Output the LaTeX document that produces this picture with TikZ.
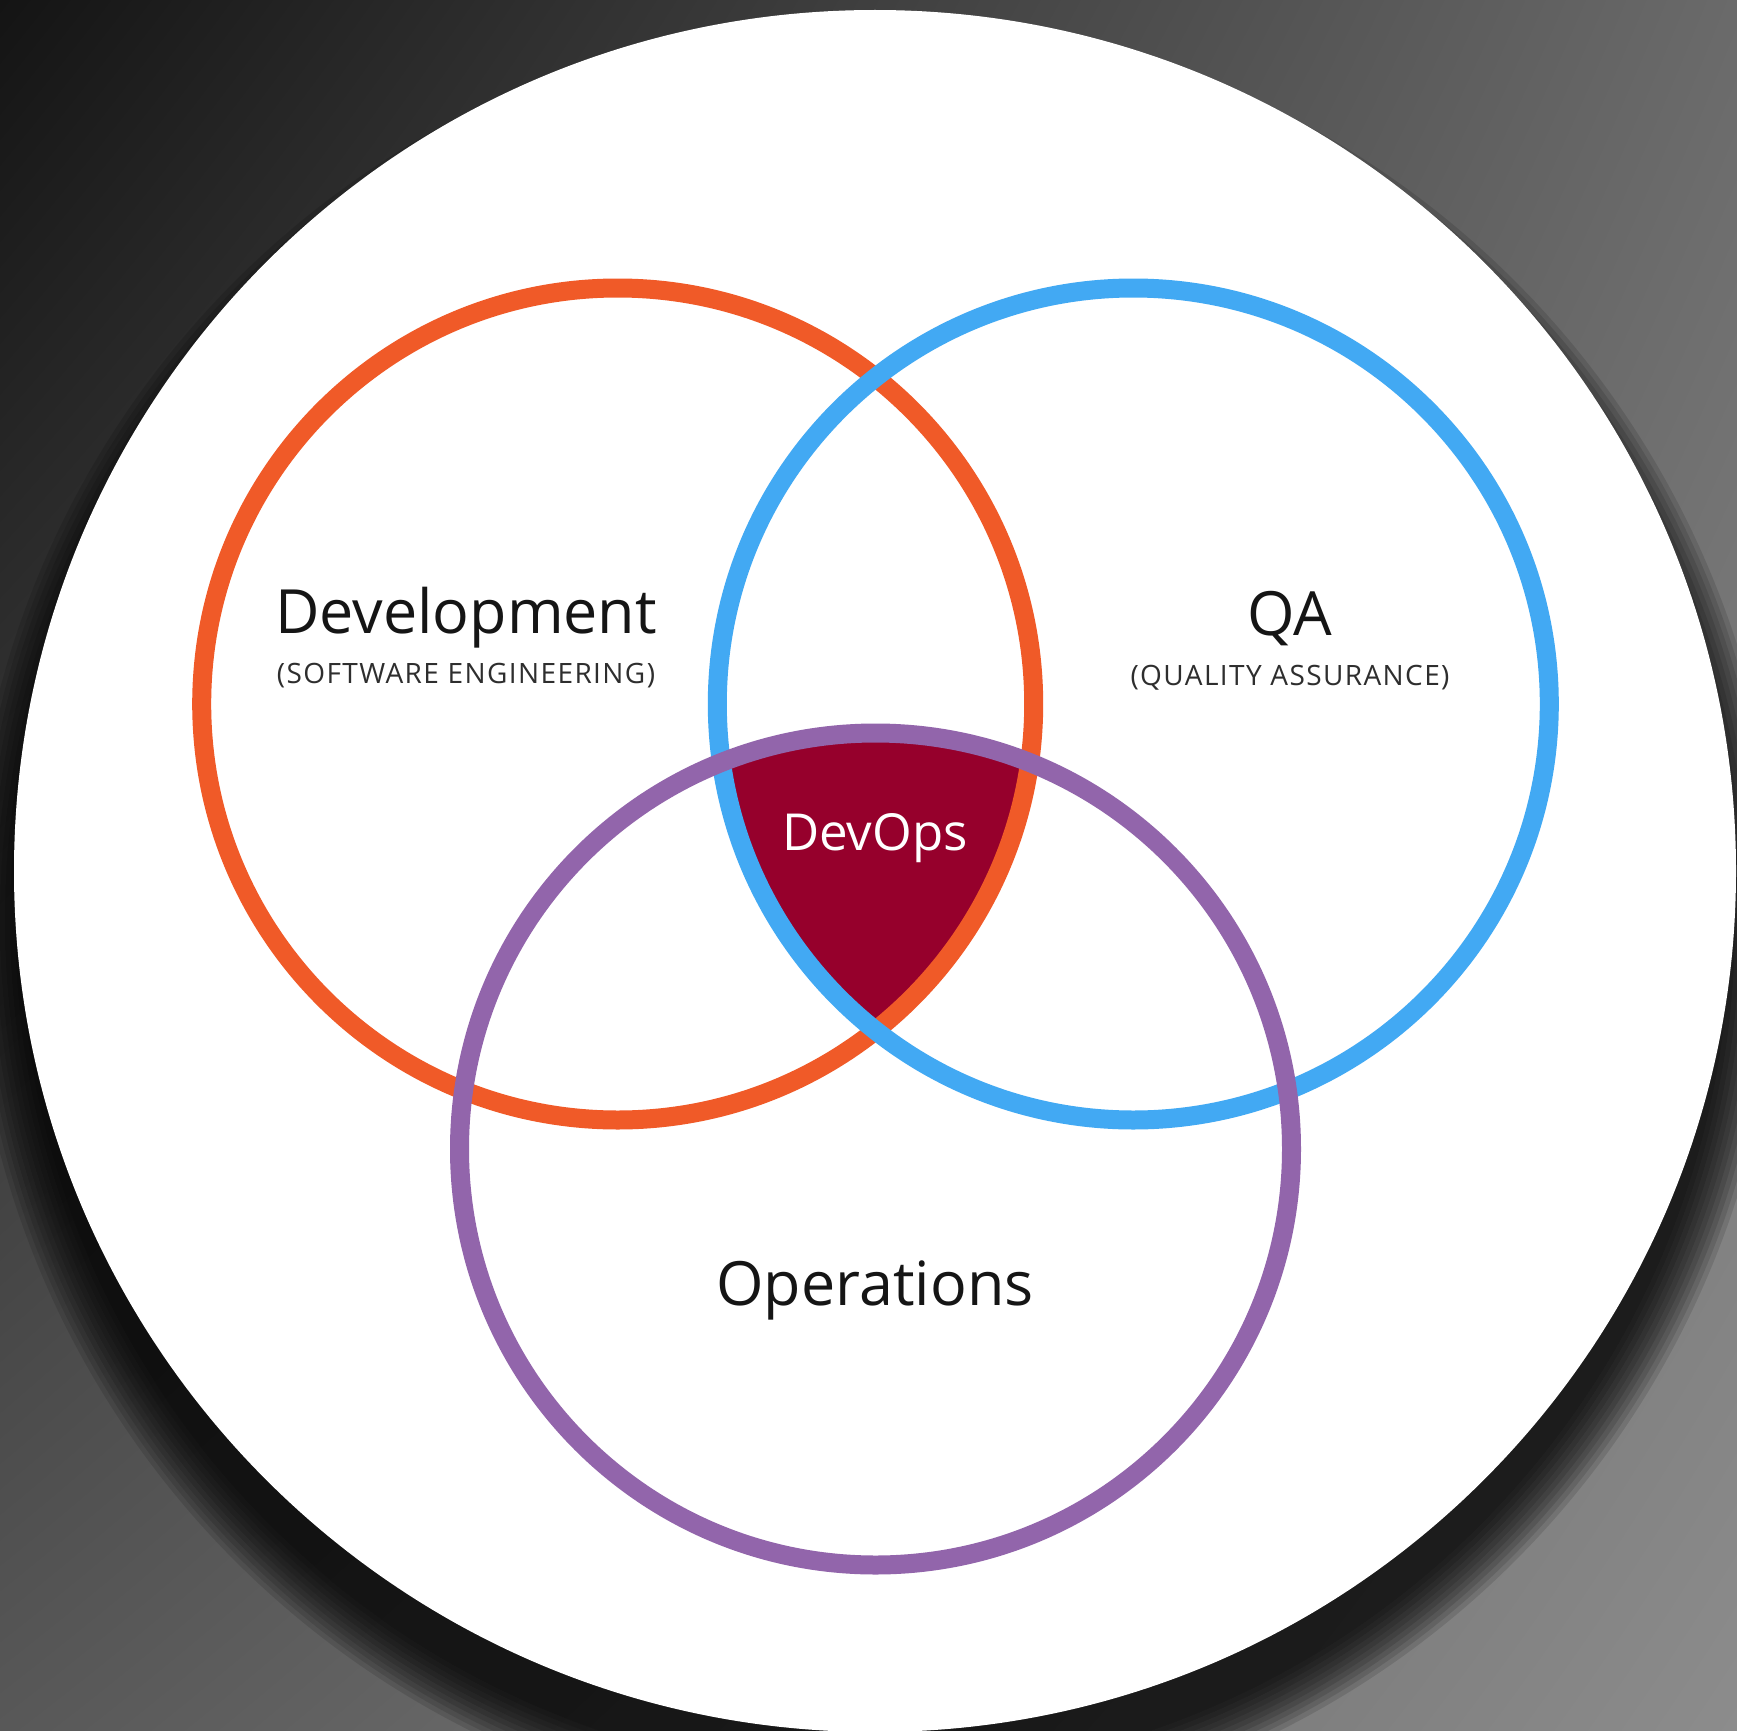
\documentclass[tikz,border=0pt]{standalone}
\usepackage{fontspec}
\setmainfont{Open Sans}
\usetikzlibrary{shadings}

\definecolor{bgTL}{HTML}{141414}
\definecolor{bgTR}{HTML}{6A6A6A}
\definecolor{bgBL}{HTML}{585858}
\definecolor{bgBR}{HTML}{8C8C8C}
\definecolor{devorange}{HTML}{F05A28}
\definecolor{qablue}{HTML}{42A9F3}
\definecolor{opspurple}{HTML}{9265AB}
\definecolor{devopsred}{HTML}{96002C}
\definecolor{inkdark}{HTML}{151515}
\definecolor{inkgray}{HTML}{2E2E2E}

\tikzset{
  ring/.style={line width=19pt},
  title/.style={anchor=base, inner sep=0pt, text=inkdark,
    font=\fontsize{61}{70}\selectfont},
  subtitle/.style={anchor=base, inner sep=0pt, text=inkgray,
    font=\fontsize{28}{32}\selectfont\addfontfeatures{LetterSpace=5}},
}

\begin{document}
\begin{tikzpicture}[x=1pt,y=-1pt]
  \useasboundingbox (0,0) rectangle (1737,1731);

  % background
  \shade[upper left=bgTL, upper right=bgTR, lower left=bgBL, lower right=bgBR]
    (0,0) rectangle (1737,1731);

  % soft shadow below the disc
  \foreach \r in {855,860,...,905}
    \fill[black, opacity=0.12] (875,921) circle[radius=\r pt];

  % white disc
  \fill[white] (875,871) circle[radius=861pt];

  % circle centres
  \coordinate (cdev) at (617.7,704);
  \coordinate (cqa)  at (1133.3,704);
  \coordinate (cops) at (875.5,1149);

  % common area of the three circles
  \begin{scope}
    \clip (cdev) circle[radius=416pt];
    \clip (cqa) circle[radius=416pt];
    \fill[devopsred] (cops) circle[radius=416pt];
  \end{scope}

  % rings
  \draw[ring, devorange] (cdev) circle[radius=416pt];
  \draw[ring, qablue]    (cqa)  circle[radius=416pt];
  \draw[ring, opspurple] (cops) circle[radius=416pt];

  % labels
  \node[title] (dev) at (466,633) {Development};
  \node[subtitle] (devsub) at (466,683) {(SOFTWARE ENGINEERING)};
  \node[title] (qa) at (1290,635) {QA};
  \node[subtitle] (qasub) at (1290,685) {(QUALITY ASSURANCE)};
  \node[title, text=white, font=\fontsize{51}{60}\selectfont] (devops) at (875,850) {DevOps};
  \node[title] (ops) at (875,1305) {Operations};
\end{tikzpicture}
\end{document}
